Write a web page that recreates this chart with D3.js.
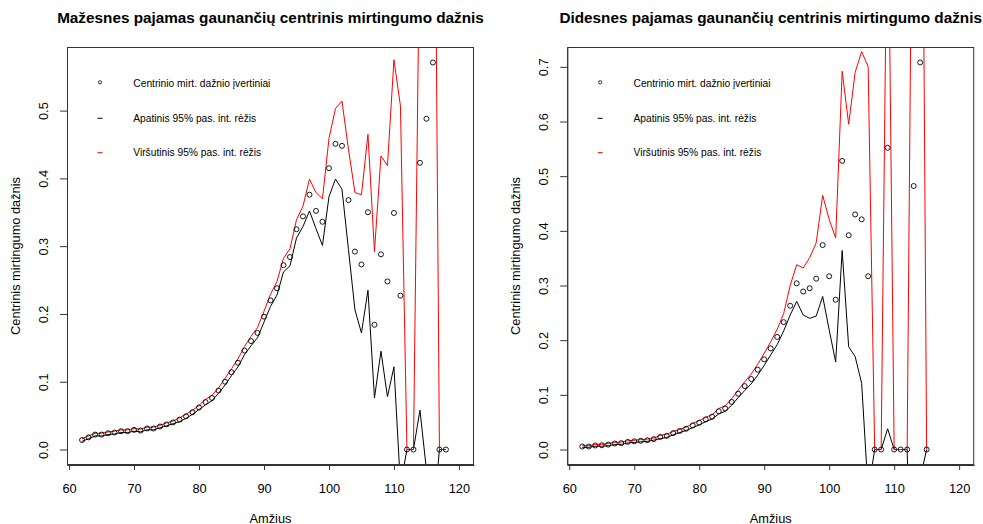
<!DOCTYPE html>
<html>
<head>
<meta charset="utf-8">
<script src="https://cdn.jsdelivr.net/npm/d3@7"></script>
<style>
  body { margin: 0; background: #fff; }
  svg { display: block; }
  text { font-family: "Liberation Sans", Arial, Helvetica, sans-serif; fill: #000; }
</style>
</head>
<body>
<svg id="chart" width="983" height="524"></svg>
<script>
// Mažesnės pajamos: amžius, centrinio mirtingumo dažnis ir 95% pasikliautinis intervalas
const agesLow = [62,63,64,65,66,67,68,69,70,71,72,73,74,75,76,77,78,79,80,81,82,83,84,85,86,87,88,89,90,
  91,92,93,94,95,96,97,98,99,100,101,102,103,104,105,106,107,108,109,110,111,112,113,114,115,116,117,118];
const rateLow = [0.014,0.018,0.022,0.022,0.024,0.025,0.027,0.027,0.029,0.028,0.031,0.031,0.034,0.037,0.040,
  0.044,0.049,0.055,0.062,0.070,0.076,0.087,0.100,0.114,0.128,0.146,0.160,0.172,0.196,0.220,0.238,0.272,
  0.284,0.325,0.344,0.376,0.352,0.336,0.415,0.451,0.448,0.368,0.292,0.273,0.350,0.184,0.288,0.248,0.349,
  0.227,0,0,0.423,0.488,0.571,0,0];
const lowerLow = [0.012,0.016,0.020,0.020,0.022,0.023,0.025,0.025,0.027,0.026,0.029,0.029,0.032,0.035,0.038,
  0.041,0.046,0.052,0.059,0.066,0.072,0.083,0.095,0.109,0.122,0.140,0.153,0.165,0.188,0.211,0.228,0.262,
  0.271,0.312,0.329,0.352,0.326,0.301,0.373,0.399,0.384,0.295,0.206,0.172,0.235,0.076,0.145,0.078,0.122,
  -0.053,0,0,0.058,-0.030,-0.110,0,0];
const upperLow = [0.016,0.020,0.024,0.024,0.026,0.027,0.029,0.029,0.031,0.030,0.033,0.033,0.036,0.039,0.042,
  0.047,0.052,0.058,0.065,0.074,0.080,0.091,0.105,0.119,0.134,0.152,0.167,0.180,0.204,0.229,0.248,0.282,
  0.296,0.339,0.359,0.399,0.379,0.370,0.459,0.503,0.514,0.443,0.379,0.376,0.465,0.292,0.433,0.419,0.575,
  0.507,0,0,0.790,1.010,1.250,0,0];

// Didesnės pajamos
const agesHigh = [62,63,64,65,66,67,68,69,70,71,72,73,74,75,76,77,78,79,80,81,82,83,84,85,86,87,88,89,90,
  91,92,93,94,95,96,97,98,99,100,101,102,103,104,105,106,107,108,109,110,111,112,113,114,115];
const rateHigh = [0.0055,0.0055,0.0074,0.0078,0.009,0.011,0.0116,0.014,0.015,0.016,0.017,0.019,0.023,0.025,
  0.030,0.034,0.038,0.044,0.049,0.055,0.060,0.070,0.075,0.087,0.102,0.116,0.129,0.146,0.165,0.185,0.206,
  0.233,0.263,0.304,0.289,0.295,0.3125,0.374,0.317,0.274,0.528,0.392,0.430,0.421,0.317,0,0,0.552,0,0,0,
  0.482,0.708,0];
const lowerHigh = [0.004,0.004,0.006,0.006,0.007,0.009,0.0095,0.012,0.013,0.014,0.015,0.017,0.020,0.022,
  0.027,0.031,0.035,0.040,0.045,0.051,0.056,0.065,0.070,0.081,0.095,0.108,0.120,0.136,0.154,0.173,0.192,
  0.217,0.246,0.271,0.246,0.240,0.244,0.280,0.219,0.160,0.364,0.188,0.170,0.121,-0.078,0,0,0.038,0,0,0,
  -0.440,-0.053,0];
const upperHigh = [0.007,0.007,0.009,0.0095,0.011,0.013,0.0137,0.016,0.017,0.018,0.019,0.021,0.026,0.028,
  0.033,0.037,0.041,0.048,0.053,0.059,0.064,0.075,0.080,0.093,0.109,0.124,0.138,0.156,0.176,0.197,0.220,
  0.249,0.300,0.338,0.332,0.351,0.378,0.465,0.421,0.387,0.692,0.595,0.690,0.728,0.700,0,0,1.100,0,0,0,
  1.400,1.760,0];

const xTicks = [60, 70, 80, 90, 100, 110, 120];
const yTicksLow = [0.0, 0.1, 0.2, 0.3, 0.4, 0.5];
const yTicksHigh = [0.0, 0.1, 0.2, 0.3, 0.4, 0.5, 0.6, 0.7];
const xLimits = [62, 120];

const legendLabels = ["Centrinio mirt. dažnio įvertiniai", "Apatinis 95% pas. int. rėžis", "Viršutinis 95% pas. int. rėžis"];
const titles = ["Mažesnes pajamas gaunančių centrinis mirtingumo dažnis", "Didesnes pajamas gaunančių centrinis mirtingumo dažnis"];
const yLabel = "Centrinis mirtingumo dažnis";
const xLabel = "Amžius";

const svg = d3.select("#chart");

// R-style axis range: limits widened by 4% on each side
function padded(lo, hi) {
  const d = (hi - lo) * 0.04;
  return [lo - d, hi + d];
}

function drawPanel(opt) {
  const { left, right, top, bottom, ages, rate, lower, upper, yTicks, title, id } = opt;
  const x = d3.scaleLinear().domain(padded(xLimits[0], xLimits[1])).range([left, right]);
  const y = d3.scaleLinear().domain(padded(0, d3.max(rate))).range([bottom, top]);

  const g = svg.append("g");

  g.append("clipPath").attr("id", id)
    .append("rect").attr("x", left).attr("y", top).attr("width", right - left).attr("height", bottom - top);

  const rows = ages.map((a, i) => ({ a, r: rate[i], lo: lower[i], hi: upper[i] }));

  const line = key => d3.line().x(d => x(d.a)).y(d => y(d[key]));

  const lines = g.append("g").attr("clip-path", `url(#${id})`);
  lines.append("path").datum(rows).attr("d", line("lo"))
    .attr("fill", "none").attr("stroke", "#000").attr("stroke-width", 1);
  lines.append("path").datum(rows).attr("d", line("hi"))
    .attr("fill", "none").attr("stroke", "#ff0000").attr("stroke-width", 1);

  g.append("g").selectAll("circle").data(rows).join("circle")
    .attr("cx", d => x(d.a)).attr("cy", d => y(d.r)).attr("r", 2.5)
    .attr("fill", "none").attr("stroke", "#000").attr("stroke-width", 0.9);

  // frame
  g.append("rect").attr("x", left + 0.5).attr("y", top + 0.5)
    .attr("width", right - left - 1).attr("height", bottom - top - 1)
    .attr("fill", "none").attr("stroke", "#333").attr("stroke-width", 1);

  // x axis
  const xa = g.append("g").attr("transform", `translate(0,${bottom})`)
    .call(d3.axisBottom(x).tickValues(xTicks).tickSize(5).tickSizeOuter(0).tickFormat(d3.format("d")));
  xa.select(".domain").attr("stroke", "#333");
  xa.selectAll(".tick line").attr("stroke", "#333");
  xa.selectAll(".tick text").attr("y", 27.7).attr("dy", 0).attr("font-size", 12.8)
    .attr("font-family", null).style("fill", "#000");

  // y axis with labels turned parallel to the axis
  const ya = g.append("g").attr("transform", `translate(${left},0)`)
    .call(d3.axisLeft(y).tickValues(yTicks).tickSize(7).tickSizeOuter(0).tickFormat(d3.format(".1f")));
  ya.select(".domain").attr("stroke", "#333");
  ya.selectAll(".tick line").attr("stroke", "#333");
  ya.selectAll(".tick text").attr("transform", "rotate(-90)").attr("x", 0).attr("y", -19.5)
    .attr("dy", 0).attr("text-anchor", "middle").attr("font-size", 12.8)
    .attr("font-family", null).style("fill", "#000");

  // titles and axis labels
  g.append("text").attr("x", (left + right) / 2).attr("y", 23).attr("text-anchor", "middle")
    .attr("font-size", 15.3).attr("font-weight", "bold").text(title);
  g.append("text").attr("x", (left + right) / 2).attr("y", 522.5).attr("text-anchor", "middle")
    .attr("font-size", 12.8).text(xLabel);
  g.append("text").attr("transform", `translate(${left - 47},${(top + bottom) / 2}) rotate(-90)`)
    .attr("text-anchor", "middle").attr("font-size", 12.8).text(yLabel);

  // legend
  const lg = g.append("g");
  const rowsY = [83.3, 118.3, 152.7];
  lg.append("circle").attr("cx", left + 33).attr("cy", rowsY[0] - 1).attr("r", 1.6)
    .attr("fill", "none").attr("stroke", "#000").attr("stroke-width", 0.8);
  lg.append("line").attr("x1", left + 30.5).attr("x2", left + 35.5).attr("y1", rowsY[1]).attr("y2", rowsY[1])
    .attr("stroke", "#000").attr("stroke-width", 1);
  lg.append("line").attr("x1", left + 30.5).attr("x2", left + 35.5).attr("y1", rowsY[2]).attr("y2", rowsY[2])
    .attr("stroke", "#ff0000").attr("stroke-width", 1);
  lg.selectAll("text.leg").data(legendLabels).join("text").attr("class", "leg")
    .attr("x", left + 66.3).attr("y", (d, i) => rowsY[i] + 3.6)
    .attr("font-size", 10.24).text(d => d);
}

drawPanel({ left: 67, right: 474, top: 47, bottom: 465, ages: agesLow, rate: rateLow,
  lower: lowerLow, upper: upperLow, yTicks: yTicksLow, title: titles[0], id: "clipLow" });
drawPanel({ left: 567.2, right: 974.2, top: 47, bottom: 465, ages: agesHigh, rate: rateHigh,
  lower: lowerHigh, upper: upperHigh, yTicks: yTicksHigh, title: titles[1], id: "clipHigh" });
</script>
</body>
</html>
